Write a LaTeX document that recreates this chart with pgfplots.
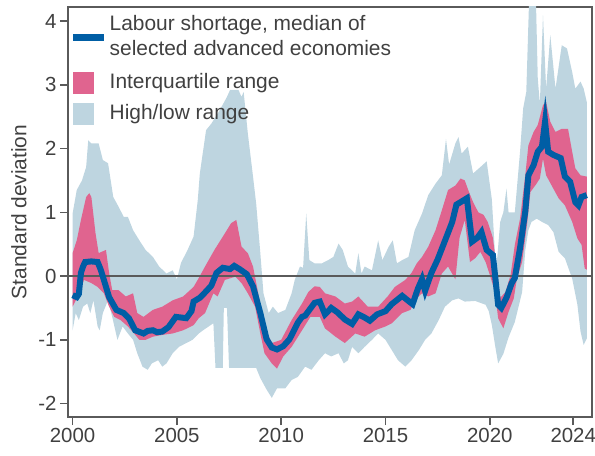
\documentclass[border=0pt]{standalone}
\usepackage{pgfplots}
\pgfplotsset{compat=1.18}
\usepgfplotslibrary{fillbetween}
\usepackage{fontspec}
\setmainfont{Liberation Sans}
\definecolor{medblue}{RGB}{0,94,165}
\definecolor{iqrpink}{RGB}{224,100,143}
\definecolor{hlblue}{RGB}{190,213,224}
\definecolor{txt}{RGB}{64,64,64}
\definecolor{axc}{RGB}{90,90,90}

\pgfplotstableread{
x y
2000.0 -0.30
2000.2 -0.33
2000.3 -0.28
2000.4 0.05
2000.5 0.15
2000.6 0.22
2000.9 0.23
2001.2 0.22
2001.35 0.10
2001.5 -0.06
2001.75 -0.33
2002.1 -0.53
2002.45 -0.58
2002.7 -0.66
2003.0 -0.85
2003.4 -0.90
2003.6 -0.86
2003.85 -0.85
2004.05 -0.88
2004.3 -0.87
2004.6 -0.80
2004.95 -0.64
2005.2 -0.65
2005.45 -0.66
2005.7 -0.55
2005.8 -0.40
2006.1 -0.34
2006.4 -0.24
2006.65 -0.15
2006.9 0.05
2007.2 0.13
2007.55 0.11
2007.75 0.16
2008.0 0.11
2008.35 0.03
2008.65 -0.16
2009.0 -0.58
2009.3 -0.99
2009.55 -1.12
2009.8 -1.15
2010.1 -1.10
2010.4 -0.99
2010.8 -0.73
2011.0 -0.64
2011.15 -0.62
2011.6 -0.42
2011.85 -0.40
2012.1 -0.60
2012.4 -0.50
2012.7 -0.57
2013.05 -0.68
2013.4 -0.75
2013.7 -0.60
2014.0 -0.65
2014.25 -0.70
2014.6 -0.60
2015.0 -0.55
2015.3 -0.44
2015.8 -0.31
2016.1 -0.39
2016.3 -0.44
2016.55 -0.20
2016.75 -0.05
2016.9 -0.23
2017.2 0.05
2017.5 0.26
2017.75 0.47
2018.0 0.68
2018.2 0.85
2018.4 1.12
2018.6 1.16
2018.9 1.22
2019.15 0.54
2019.4 0.60
2019.6 0.69
2019.85 0.41
2020.15 0.33
2020.4 -0.45
2020.55 -0.50
2020.8 -0.34
2021.05 -0.11
2021.2 -0.03
2021.45 0.44
2021.7 1.01
2021.85 1.58
2022.1 1.74
2022.3 1.95
2022.5 2.03
2022.65 2.42
2022.8 1.95
2023.05 1.90
2023.4 1.85
2023.6 1.56
2023.85 1.48
2024.1 1.16
2024.25 1.11
2024.4 1.24
2024.65 1.27
}\median

\pgfplotstableread{
x y
2000.0 0.36
2000.2 0.56
2000.4 0.88
2000.65 1.24
2000.8 1.30
2000.9 1.24
2001.1 0.67
2001.25 0.36
2001.6 0.41
2001.75 0.05
2001.9 -0.22
2002.2 -0.22
2002.55 -0.32
2002.9 -0.27
2003.1 -0.58
2003.4 -0.64
2003.85 -0.53
2004.3 -0.48
2004.8 -0.38
2005.3 -0.32
2005.8 -0.17
2006.05 -0.03
2006.35 0.15
2006.8 0.41
2007.3 0.67
2007.6 0.83
2007.85 0.88
2008.1 0.46
2008.4 0.36
2008.65 0.15
2008.9 -0.27
2009.2 -0.79
2009.55 -1.05
2010.0 -1.00
2010.5 -0.69
2011.0 -0.43
2011.3 -0.25
2011.6 -0.16
2011.85 -0.17
2012.1 -0.27
2012.6 -0.32
2013.05 -0.43
2013.4 -0.40
2013.7 -0.32
2014.15 -0.48
2014.65 -0.48
2015.1 -0.32
2015.45 -0.17
2015.95 -0.06
2016.25 0.05
2016.5 0.20
2016.75 0.30
2017.05 0.46
2017.4 0.72
2017.7 1.03
2018.0 1.35
2018.35 1.42
2018.6 1.53
2018.8 1.50
2019.0 1.32
2019.2 1.16
2019.45 1.00
2019.7 0.96
2019.9 0.85
2020.15 0.60
2020.35 0.07
2020.5 -0.34
2020.75 -0.25
2021.0 0.02
2021.2 0.49
2021.45 0.90
2021.7 1.58
2021.85 2.05
2022.1 2.26
2022.3 2.37
2022.55 2.68
2022.7 2.73
2022.9 2.42
2023.15 2.26
2023.45 2.31
2023.75 2.31
2023.95 1.95
2024.1 1.69
2024.35 1.58
2024.65 1.56
}\iqrup

\pgfplotstableread{
x y
2000.0 -0.48
2000.25 -0.32
2000.55 -0.06
2000.9 -0.11
2001.2 -0.17
2001.5 -0.27
2001.75 -0.48
2002.0 -0.64
2002.3 -0.69
2002.65 -0.79
2002.95 -0.90
2003.2 -1.00
2003.5 -1.00
2003.85 -0.95
2004.35 -0.92
2004.8 -0.90
2005.3 -0.85
2005.8 -0.77
2006.05 -0.66
2006.35 -0.58
2006.75 -0.27
2006.95 -0.32
2007.3 -0.06
2007.8 -0.01
2008.1 -0.11
2008.4 -0.27
2008.75 -0.48
2009.0 -0.90
2009.2 -1.21
2009.55 -1.37
2009.8 -1.45
2010.1 -1.26
2010.5 -1.11
2011.0 -0.85
2011.4 -0.64
2011.85 -0.64
2012.1 -0.82
2012.6 -0.95
2013.05 -1.05
2013.55 -0.90
2014.0 -0.95
2014.5 -0.85
2015.0 -0.79
2015.3 -0.74
2015.8 -0.58
2016.2 -0.53
2016.4 -0.38
2016.75 -0.27
2017.05 -0.32
2017.4 -0.27
2017.7 0.04
2018.0 0.15
2018.35 -0.05
2018.55 0.60
2018.8 0.88
2019.05 0.22
2019.3 0.28
2019.55 0.38
2019.8 0.22
2020.0 0.02
2020.25 -0.25
2020.4 -0.66
2020.65 -0.82
2020.9 -0.56
2021.15 -0.35
2021.3 -0.04
2021.55 0.22
2021.8 0.85
2021.95 1.32
2022.2 1.43
2022.4 1.53
2022.55 1.84
2022.7 1.58
2022.95 1.43
2023.3 1.22
2023.6 1.11
2023.95 0.85
2024.2 0.59
2024.4 0.49
2024.55 0.12
2024.65 0.10
}\iqrlo

\pgfplotstableread{
x y
2000.0 0.98
2000.2 1.35
2000.45 1.50
2000.65 1.71
2000.75 2.13
2000.9 2.08
2001.25 2.08
2001.45 1.82
2001.7 1.77
2001.95 1.24
2002.2 1.09
2002.45 0.93
2002.65 0.93
2002.9 0.72
2003.2 0.56
2003.5 0.41
2003.85 0.30
2004.15 0.15
2004.5 0.04
2004.8 0.09
2005.0 -0.05
2005.2 0.21
2005.5 0.40
2005.8 0.62
2006.0 1.19
2006.1 1.61
2006.4 2.29
2006.65 2.39
2007.05 2.60
2007.4 2.81
2007.55 2.92
2007.95 2.92
2008.1 2.81
2008.2 2.89
2008.4 2.24
2008.65 1.56
2008.8 1.14
2009.0 0.36
2009.15 -0.27
2009.4 -0.58
2009.6 -0.48
2009.85 -0.58
2010.2 -0.53
2010.5 -0.27
2010.65 -0.06
2010.9 0.15
2011.05 0.13
2011.2 0.98
2011.35 0.25
2011.6 0.20
2011.95 0.20
2012.25 0.25
2012.5 0.30
2012.75 0.51
2012.95 0.41
2013.2 0.15
2013.55 0.04
2013.7 0.36
2013.85 0.04
2014.0 0.15
2014.35 0.09
2014.65 0.56
2014.85 0.25
2015.15 0.46
2015.35 0.56
2015.55 0.20
2015.8 0.25
2016.1 0.30
2016.4 0.72
2016.75 0.98
2017.05 1.27
2017.4 1.45
2017.7 1.58
2017.9 2.15
2018.05 1.75
2018.35 2.08
2018.5 2.18
2018.65 1.92
2018.95 2.03
2019.2 1.61
2019.55 1.71
2019.85 1.80
2020.1 1.20
2020.3 0.07
2020.5 0.85
2020.65 1.00
2020.8 1.37
2020.9 1.00
2021.2 1.00
2021.45 1.95
2021.6 2.63
2021.75 2.89
2021.9 4.50
2022.2 4.50
2022.3 3.10
2022.4 2.70
2022.55 4.09
2022.7 2.94
2022.9 3.78
2023.15 2.94
2023.45 3.62
2023.7 3.57
2023.95 3.20
2024.1 2.94
2024.35 3.05
2024.5 2.94
2024.65 2.73
}\hlup

\pgfplotstableread{
x y
2000.0 -0.85
2000.15 -0.58
2000.3 -0.69
2000.5 -0.48
2000.7 -0.43
2000.85 -0.58
2001.0 -0.38
2001.2 -0.79
2001.3 -0.85
2001.45 -0.58
2001.7 -0.38
2001.9 -0.64
2002.15 -1.00
2002.4 -0.79
2002.65 -0.90
2002.9 -1.00
2003.1 -1.21
2003.35 -1.42
2003.6 -1.47
2003.8 -1.37
2004.1 -1.32
2004.3 -1.42
2004.5 -1.37
2004.8 -1.21
2005.1 -1.11
2005.45 -1.05
2005.75 -1.00
2006.05 -0.90
2006.3 -0.84
2006.75 -0.74
2006.85 -1.44
2007.2 -1.44
2007.25 -0.50
2007.4 -0.50
2007.5 -1.44
2008.8 -1.44
2009.0 -1.60
2009.3 -1.78
2009.55 -1.91
2009.8 -1.76
2010.2 -1.76
2010.5 -1.63
2010.8 -1.58
2011.15 -1.42
2011.45 -1.47
2011.8 -1.32
2012.1 -1.21
2012.4 -1.26
2012.75 -1.21
2013.0 -1.37
2013.2 -1.32
2013.4 -1.11
2013.7 -1.21
2014.0 -1.11
2014.35 -1.00
2014.65 -0.90
2015.0 -1.00
2015.3 -1.16
2015.6 -1.32
2015.95 -1.42
2016.25 -1.32
2016.6 -1.16
2016.9 -1.00
2017.2 -0.90
2017.55 -0.69
2017.85 -0.48
2018.2 -0.38
2018.5 -0.35
2018.8 -0.40
2019.3 -0.39
2019.8 -0.45
2019.95 -0.55
2020.1 -0.77
2020.25 -1.08
2020.4 -1.37
2020.65 -1.22
2020.9 -0.96
2021.2 -0.72
2021.55 -0.25
2021.7 0.40
2021.85 0.72
2022.0 0.85
2022.25 0.90
2022.5 0.85
2022.8 0.80
2023.05 0.69
2023.3 0.38
2023.6 0.28
2023.95 -0.04
2024.2 -0.45
2024.35 -0.87
2024.5 -1.08
2024.65 -0.98
}\hllo

\begin{document}
\begin{tikzpicture}
\begin{axis}[
  name=ax,
  scale only axis,
  width=524bp, height=410bp,
  xmin=1999.78, xmax=2024.9,
  ymin=-2.21, ymax=4.22,
  xtick={2000,2005,2010,2015,2020,2024},
  xticklabels={2000,2005,2010,2015,2020,2024},
  ytick={-2,-1,0,1,2,3,4},
  yticklabels={-2,-1,0,1,2,3,4},
  xtick pos=bottom, ytick pos=left,
  tick align=outside,
  major tick length=8bp,
  tick style={axc, line width=1.5bp},
  axis line style={axc, line width=1.5bp},
  ticklabel style={font=\fontsize{20.5}{24}\selectfont, text=txt},
  ylabel={Standard deviation},
  ylabel shift=5bp,
  ylabel style={font=\fontsize{21}{24}\selectfont, text=txt},
  legend cell align=left,
  legend style={at={(axis description cs:0.0038,0.9866)}, anchor=north west,
    draw=none, fill=none, inner sep=0bp, font=\fontsize{21}{25}\selectfont, text=txt,
    row sep=10bp, column sep=2bp,
    nodes={inner sep=0bp, text depth=}},
]
\addplot[name path=hlu, draw=none, forget plot] table {\hlup};
\addplot[name path=hll, draw=none, forget plot] table {\hllo};
\addplot[hlblue, forget plot] fill between[of=hlu and hll];
\addplot[name path=iqu, draw=none, forget plot] table {\iqrup};
\addplot[name path=iql, draw=none, forget plot] table {\iqrlo};
\addplot[iqrpink, forget plot] fill between[of=iqu and iql];
\addplot[axc, line width=1.5bp, forget plot] coordinates {(1999.78,0) (2024.9,0)};
\addplot[medblue, line width=6bp, forget plot] table {\median};

\addlegendimage{draw=none, fill=none, legend image code/.code={
  \path[draw=none, fill=none] (0bp,-10.5bp) rectangle (34bp,10.5bp);
  \draw[draw=medblue, line width=6.5bp] (0bp,0bp) -- (31bp,0bp);}}
\addlegendentry{\begin{tabular}{@{}l@{}}Labour shortage, median of\\selected advanced economies\end{tabular}}
\addlegendimage{draw=none, fill=none, legend image code/.code={
  \path[draw=none, fill=none] (0bp,-10.5bp) rectangle (34bp,10.5bp);
  \path[fill=iqrpink, draw=none] (0bp,-10.5bp) rectangle (21bp,10.5bp);}}
\addlegendentry{Interquartile range}
\addlegendimage{draw=none, fill=none, legend image code/.code={
  \path[draw=none, fill=none] (0bp,-10.5bp) rectangle (34bp,10.5bp);
  \path[fill=hlblue, draw=none] (0bp,-10.5bp) rectangle (21bp,10.5bp);}}
\addlegendentry{High/low range}
\end{axis}
\pgfresetboundingbox
\path ([shift={(-68bp,-39bp)}]ax.south west) rectangle ([shift={(3bp,7bp)}]ax.north east);
\end{tikzpicture}
\end{document}
